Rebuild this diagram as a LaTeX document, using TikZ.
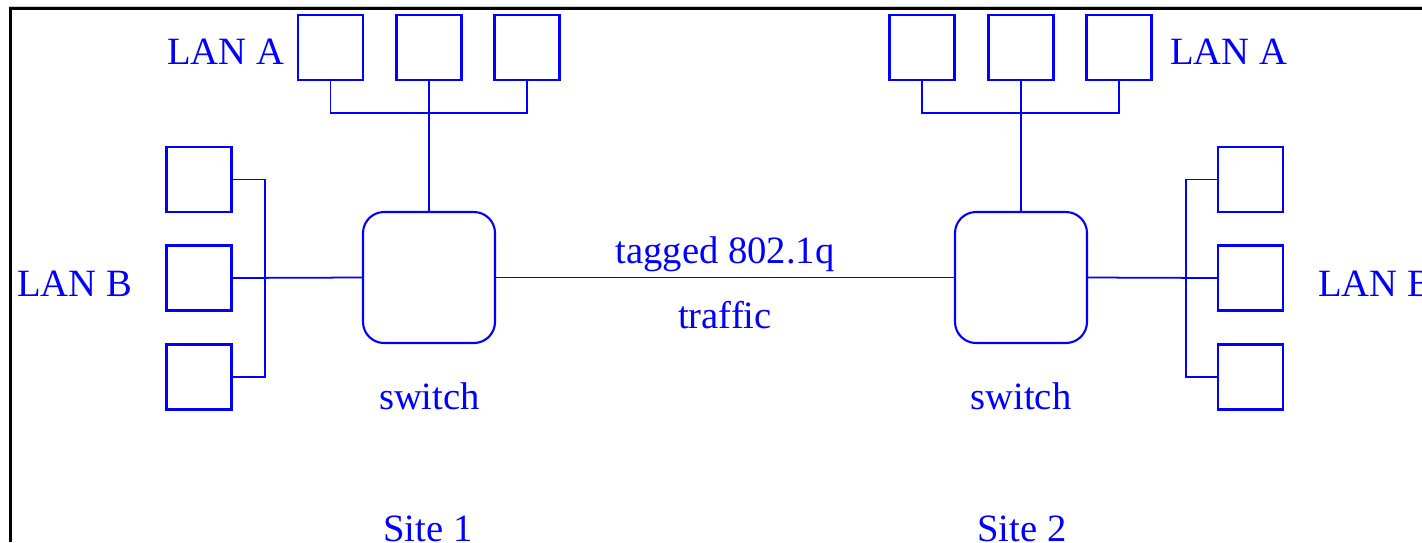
\documentclass[tikz,border=0pt]{standalone}
\usepackage{fontspec}
\setmainfont{Liberation Serif}
\usetikzlibrary{positioning}
\tikzstyle{host} = [
	draw=blue,
	line width=1.2pt,
	minimum width=1.3cm,
	minimum height=1.3cm,
	inner sep=0pt
]
\tikzstyle{switchbox} = [
	draw=blue,
	line width=1.2pt,
	rounded corners=0.42cm,
	minimum width=2.64cm,
	minimum height=2.62cm,
	inner sep=0pt
]
\tikzstyle{wire} = [blue, line width=1pt]
\tikzstyle{lantext} = [text=blue, font=\fontsize{22}{26}\selectfont, inner sep=0pt]

\begin{document}
\begin{tikzpicture}[x=0.02cm, y=-0.02cm]
    \useasboundingbox (0, 0) rectangle (1422, 542);
    \clip (0, 0) rectangle (1422, 542);
    % frame of the screenshot
    \draw [gray!40, line width=0.5pt] (9, 6) -- (1422, 6);
    \draw [black, line width=1.6pt] (10.7, 542) -- (10.7, 8.7) -- (1422, 8.7);
    % switches
    \node [switchbox] (sw1) at (429, 277.5) {};
    \node [switchbox] (sw2) at (1021, 277.5) {};
    % site 1, LAN A
    \node [host] (a1) at (330.5, 47.5) {};
    \node [host] (a2) at (429, 47.5) {};
    \node [host] (a3) at (527, 47.5) {};
    % site 2, LAN A
    \node [host] (a4) at (922, 47.5) {};
    \node [host] (a5) at (1021, 47.5) {};
    \node [host] (a6) at (1119, 47.5) {};
    % site 1, LAN B
    \node [host] (b1) at (199, 179.5) {};
    \node [host] (b2) at (199, 278) {};
    \node [host] (b3) at (199, 377) {};
    % site 2, LAN B
    \node [host] (b4) at (1250.5, 179.5) {};
    \node [host] (b5) at (1250.5, 278) {};
    \node [host] (b6) at (1250.5, 377) {};
    % bus joints
    \coordinate (ja1) at (429, 113);
    \coordinate (ja2) at (1021, 113);
    \coordinate (jb1) at (265, 278);
    \coordinate (jb2) at (1186, 278);
    \draw [wire] (a1.south) |- (ja1) -| (a3.south);
    \draw [wire] (a2.south) -- (sw1.north);
    \draw [wire] (a4.south) |- (ja2) -| (a6.south);
    \draw [wire] (a5.south) -- (sw2.north);
    \draw [wire] (b1.east) -| (jb1) |- (b3.east);
    \draw [wire] (b2.east) -- (sw1.west);
    \draw [wire] (b4.west) -| (jb2) |- (b6.west);
    \draw [wire] (b5.west) -- (sw2.east);
    \draw [wire] (sw1.east) -- (sw2.west);
    % texts
    \node [lantext, anchor=base west] (lanA1) at (167, 64) {LAN A};
    \node [lantext, anchor=base west] (lanA2) at (1170, 64) {LAN A};
    \node [lantext, anchor=base] (lanB1) at (74.5, 296) {LAN B};
    \node [lantext, anchor=base west] (lanB2) at (1318, 296) {LAN B};
    \node [lantext, anchor=base] (tagged) at (725, 263) {tagged 802.1q};
    \node [lantext, anchor=base] (traffic) at (725, 328) {traffic};
    \node [lantext, anchor=base] (swname1) at (429.5, 409) {switch};
    \node [lantext, anchor=base] (swname2) at (1021, 409) {switch};
    \node [lantext, anchor=base] (site1) at (428, 541) {Site 1};
    \node [lantext, anchor=base] (site2) at (1022, 541) {Site 2};
\end{tikzpicture}
\end{document}
